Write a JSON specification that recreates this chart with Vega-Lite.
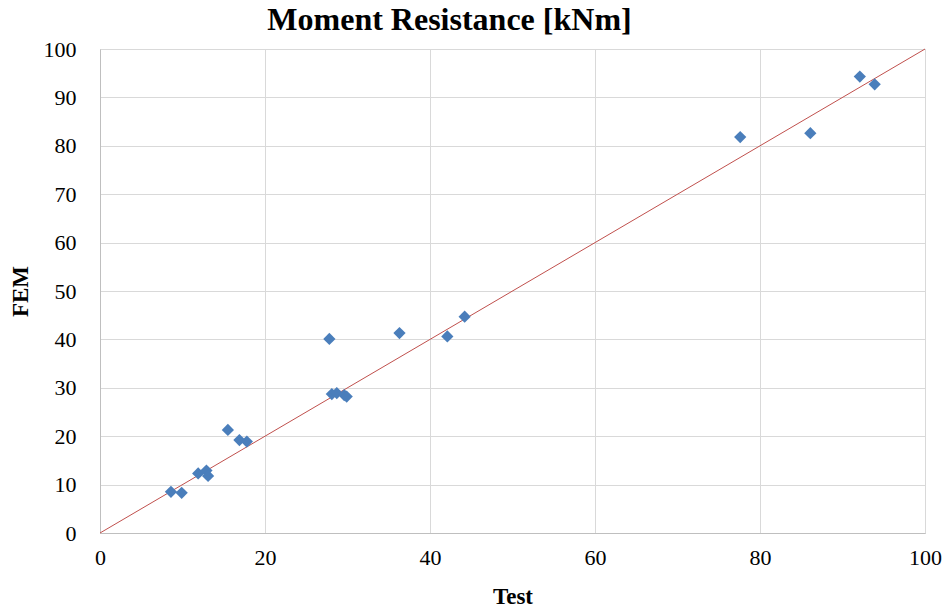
{
  "$schema": "https://vega.github.io/schema/vega-lite/v6.json",
  "autosize": {"type": "none"},
  "width": 825,
  "height": 484,
  "padding": {"left": 100, "top": 49, "right": 22, "bottom": 77},
  "background": "white",
  "title": {
    "text": "Moment Resistance [kNm]",
    "font": "Liberation Serif",
    "fontSize": 32,
    "fontWeight": "bold",
    "color": "#000000",
    "anchor": "middle",
    "dx": -63,
    "offset": 1
  },
  "config": {
    "view": {"stroke": "#d9d9d9"},
    "axis": {
      "gridColor": "#d9d9d9",
      "domainColor": "#bfbfbf",
      "ticks": false
    }
  },
  "layer": [
    {
      "data": {"values": [{"Test": 0, "FEM": 0}, {"Test": 100, "FEM": 100}]},
      "mark": {"type": "line", "color": "#c0504d", "strokeWidth": 1},
      "encoding": {
        "x": {"field": "Test", "type": "quantitative"},
        "y": {"field": "FEM", "type": "quantitative"}
      }
    },
    {
      "data": {
        "values": [
          {"Test": 8.6, "FEM": 8.5},
          {"Test": 9.9, "FEM": 8.3},
          {"Test": 11.9, "FEM": 12.3},
          {"Test": 12.9, "FEM": 12.9},
          {"Test": 13.1, "FEM": 11.8},
          {"Test": 15.5, "FEM": 21.3},
          {"Test": 16.9, "FEM": 19.2},
          {"Test": 17.8, "FEM": 18.9},
          {"Test": 27.8, "FEM": 40.1},
          {"Test": 28.1, "FEM": 28.7},
          {"Test": 28.7, "FEM": 28.9},
          {"Test": 29.6, "FEM": 28.5},
          {"Test": 29.9, "FEM": 28.2},
          {"Test": 36.3, "FEM": 41.3},
          {"Test": 42.1, "FEM": 40.6},
          {"Test": 44.2, "FEM": 44.7},
          {"Test": 77.6, "FEM": 81.8},
          {"Test": 86.1, "FEM": 82.6},
          {"Test": 92.1, "FEM": 94.3},
          {"Test": 93.9, "FEM": 92.7}
        ]
      },
      "mark": {"type": "point", "shape": "diamond", "filled": true, "color": "#4a7ebb", "opacity": 1, "size": 150},
      "encoding": {
        "x": {
          "field": "Test",
          "type": "quantitative",
          "scale": {"domain": [0, 100], "nice": false},
          "axis": {
            "title": "Test",
            "values": [0, 20, 40, 60, 80, 100],
            "labelFont": "Liberation Serif",
            "labelFontSize": 22,
            "labelColor": "#000000",
            "labelPadding": 14,
            "labelFlush": false,
            "titleFont": "Liberation Serif",
            "titleFontSize": 23,
            "titleFontWeight": "bold",
            "titleColor": "#000000",
            "titlePadding": 17
          }
        },
        "y": {
          "field": "FEM",
          "type": "quantitative",
          "scale": {"domain": [0, 100], "nice": false},
          "axis": {
            "title": "FEM",
            "values": [0, 10, 20, 30, 40, 50, 60, 70, 80, 90, 100],
            "labelFont": "Liberation Serif",
            "labelFontSize": 22,
            "labelColor": "#000000",
            "labelPadding": 24,
            "labelFlush": false,
            "titleFont": "Liberation Serif",
            "titleFontSize": 23,
            "titleFontWeight": "bold",
            "titleColor": "#000000",
            "titlePadding": 11
          }
        }
      }
    }
  ]
}
